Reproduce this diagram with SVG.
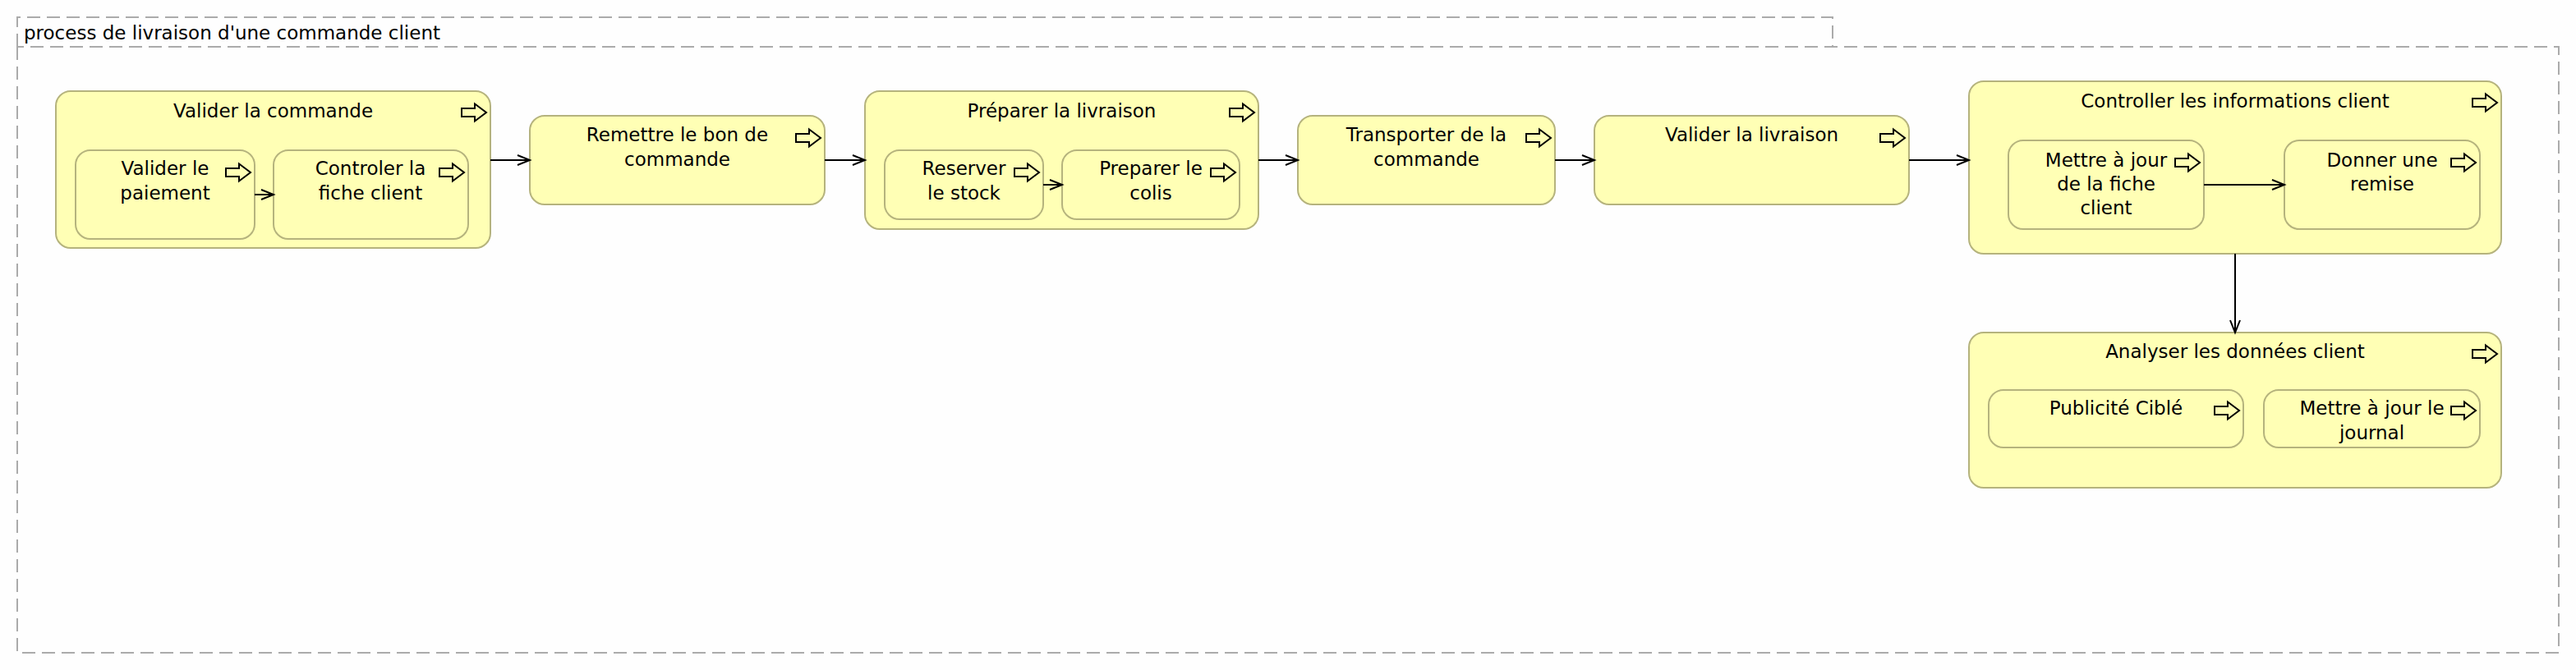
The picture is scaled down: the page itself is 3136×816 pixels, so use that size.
<svg xmlns="http://www.w3.org/2000/svg" width="3136" height="816" viewBox="0 0 3136 816">
<defs>
<style>
.frame{fill:none;stroke:#ABABAB;stroke-width:2;stroke-dasharray:16,8}
.box{fill:#FFFFB5;stroke:#B5B37D;stroke-width:2}
.ico{fill:none;stroke:#000;stroke-width:2;stroke-linejoin:miter}
.t{font-family:"DejaVu Sans","Liberation Sans",sans-serif;font-size:23px;fill:#000;text-anchor:middle}
.ft{font-family:"DejaVu Sans","Liberation Sans",sans-serif;font-size:23px;fill:#000}
.c{fill:none;stroke:#000;stroke-width:2}
</style>
<path id="ico" class="ico" d="M0,-5 H16 V-10.5 L30,0 L16,10.5 V5 H0 Z"/>
<marker id="ah" markerUnits="userSpaceOnUse" markerWidth="20" markerHeight="16" refX="16" refY="7" orient="auto" viewBox="0 0 20 16">
<path d="M1,1 L16,7 L1,13" fill="none" stroke="#000" stroke-width="2"/>
</marker>
</defs>
<rect width="3136" height="816" fill="#FEFEFE"/>
<g id="frame">
<path class="frame" d="M21,57 V795 H3115 V57 H21"/>
<path class="frame" d="M21,57 V21 H2231 V57"/>
<text class="ft" x="29" y="48">process de livraison d'une commande client</text>
</g>
<g id="valider-commande">
<rect class="box" x="68" y="111" width="529" height="191" rx="18"/>
<text class="t" x="332.5" y="143">Valider la commande</text>
<use href="#ico" x="562" y="137"/>
</g>
<g id="valider-paiement">
<rect class="box" x="92" y="183" width="218" height="108" rx="18"/>
<text class="t" x="201" y="213">Valider le</text>
<text class="t" x="201" y="243">paiement</text>
<use href="#ico" x="275" y="210"/>
</g>
<g id="controler-fiche">
<rect class="box" x="333" y="183" width="237" height="108" rx="18"/>
<text class="t" x="451" y="213">Controler la</text>
<text class="t" x="451" y="243">fiche client</text>
<use href="#ico" x="535" y="210"/>
</g>
<g id="remettre-bon">
<rect class="box" x="645" y="141" width="359" height="108" rx="18"/>
<text class="t" x="824.5" y="172">Remettre le bon de</text>
<text class="t" x="824.5" y="202">commande</text>
<use href="#ico" x="969" y="168"/>
</g>
<g id="preparer-livraison">
<rect class="box" x="1053" y="111" width="479" height="168" rx="18"/>
<text class="t" x="1292.5" y="143">Préparer la livraison</text>
<use href="#ico" x="1497" y="137"/>
</g>
<g id="reserver-stock">
<rect class="box" x="1077" y="183" width="193" height="84" rx="18"/>
<text class="t" x="1173.5" y="213">Reserver</text>
<text class="t" x="1173.5" y="243">le stock</text>
<use href="#ico" x="1235" y="210"/>
</g>
<g id="preparer-colis">
<rect class="box" x="1293" y="183" width="216" height="84" rx="18"/>
<text class="t" x="1401" y="213">Preparer le</text>
<text class="t" x="1401" y="243">colis</text>
<use href="#ico" x="1474" y="210"/>
</g>
<g id="transporter">
<rect class="box" x="1580" y="141" width="313" height="108" rx="18"/>
<text class="t" x="1736.5" y="172">Transporter de la</text>
<text class="t" x="1736.5" y="202">commande</text>
<use href="#ico" x="1858" y="168"/>
</g>
<g id="valider-livraison">
<rect class="box" x="1941" y="141" width="383" height="108" rx="18"/>
<text class="t" x="2132.5" y="172">Valider la livraison</text>
<use href="#ico" x="2289" y="168"/>
</g>
<g id="controller-infos">
<rect class="box" x="2397" y="99" width="648" height="210" rx="18"/>
<text class="t" x="2721" y="131">Controller les informations client</text>
<use href="#ico" x="3010" y="125"/>
</g>
<g id="maj-fiche">
<rect class="box" x="2445" y="171" width="238" height="108" rx="18"/>
<text class="t" x="2564" y="203">Mettre à jour</text>
<text class="t" x="2564" y="232">de la fiche</text>
<text class="t" x="2564" y="261">client</text>
<use href="#ico" x="2648" y="198"/>
</g>
<g id="donner-remise">
<rect class="box" x="2781" y="171" width="238" height="108" rx="18"/>
<text class="t" x="2900" y="203">Donner une</text>
<text class="t" x="2900" y="232">remise</text>
<use href="#ico" x="2984" y="198"/>
</g>
<g id="analyser">
<rect class="box" x="2397" y="405" width="648" height="189" rx="18"/>
<text class="t" x="2721" y="436">Analyser les données client</text>
<use href="#ico" x="3010" y="431"/>
</g>
<g id="publicite">
<rect class="box" x="2421" y="475" width="310" height="70" rx="18"/>
<text class="t" x="2576" y="505">Publicité Ciblé</text>
<use href="#ico" x="2696" y="500"/>
</g>
<g id="maj-journal">
<rect class="box" x="2756" y="475" width="263" height="70" rx="18"/>
<text class="t" x="2887.5" y="505">Mettre à jour le</text>
<text class="t" x="2887.5" y="535">journal</text>
<use href="#ico" x="2984" y="500"/>
</g>
<g id="connectors">
<path class="c" marker-end="url(#ah)" d="M597,195 H645"/>
<path class="c" marker-end="url(#ah)" d="M1004,195 H1053"/>
<path class="c" marker-end="url(#ah)" d="M1532,195 H1580"/>
<path class="c" marker-end="url(#ah)" d="M1893,195 H1941"/>
<path class="c" marker-end="url(#ah)" d="M2324,195 H2397"/>
<path class="c" marker-end="url(#ah)" d="M2721,309 V405"/>
<path class="c" marker-end="url(#ah)" d="M310,237 H333"/>
<path class="c" marker-end="url(#ah)" d="M1270,225 H1293"/>
<path class="c" marker-end="url(#ah)" d="M2683,225 H2781"/>
</g>
</svg>
